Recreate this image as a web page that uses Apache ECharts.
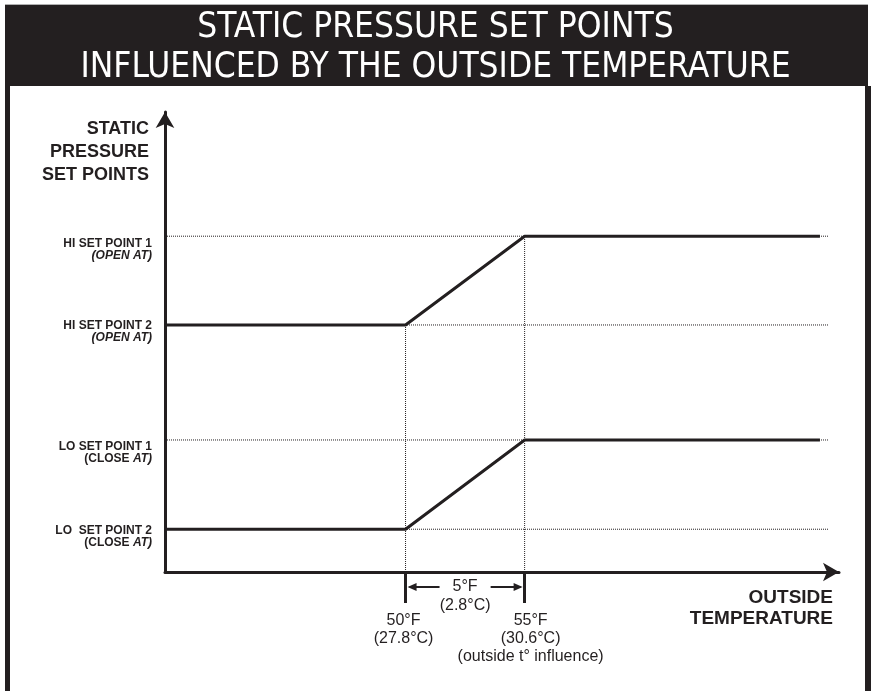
<!DOCTYPE html>
<html>
<head>
<meta charset="utf-8">
<script src="https://cdn.jsdelivr.net/npm/echarts@6/dist/echarts.min.js"></script>
<style>
  html, body { margin: 0; padding: 0; background: #fff; }
  #chart { width: 871px; height: 691px; }
</style>
</head>
<body>
<div id="chart"></div>
<script>
// set point levels (pressure axis, arbitrary units) from bottom to top
const yLevels = [9.3, 28.7, 53.7, 73.0];
const yLabelNames = ["LO  SET POINT 2", "LO SET POINT 1", "HI SET POINT 2", "HI SET POINT 1"];
const yLabelActions = ["CLOSE", "CLOSE", "OPEN", "OPEN"];

// outside temperature (°F)
const xTemps = [39.9, 50, 55, 67.4];
const hiLine = [53.7, 53.7, 73.0, 73.0];
const loLine = [9.3, 9.3, 28.7, 28.7];
const guideEndX = 67.75;

const xTicks = [50, 55];
const xTickLabels = ["50°F\n(27.8°C)", "55°F\n(30.6°C)\n(outside t° influence)"];
const bandLabel = "5°F\n(2.8°C)";

const ink = "#231f20";
const sans = "Liberation Sans, Arial, sans-serif";
const chart = echarts.init(document.getElementById("chart"));

const guideStyle = { color: ink, width: 1, type: [1, 1] };
const guides = [];
yLevels.forEach((lvl) => {
  guides.push([[xTemps[0], lvl], [guideEndX, lvl]]);
});
guides.push([[xTicks[0], 0], [xTicks[0], hiLine[1]]]);
guides.push([[xTicks[1], 0], [xTicks[1], hiLine[2]]]);

const labelFont = { fontFamily: sans, fontWeight: "bold", fontSize: 12, lineHeight: 12, color: ink };

chart.setOption({
  animation: false,
  title: {
    text: "STATIC PRESSURE SET POINTS\nINFLUENCED BY THE OUTSIDE TEMPERATURE",
    left: "center",
    top: 8,
    padding: 0,
    textStyle: {
      color: "#fff",
      fontFamily: "Liberation Sans Narrow, DejaVu Sans Condensed, sans-serif",
      fontWeight: "normal",
      fontSize: 35,
      lineHeight: 40
    }
  },
  grid: { left: 165, right: 32, top: 112, bottom: 119 },
  xAxis: {
    type: "value",
    min: 39.9,
    max: 68.2,
    name: "OUTSIDE\nTEMPERATURE",
    nameLocation: "end",
    nameGap: -6,
    nameTextStyle: {
      align: "right",
      verticalAlign: "top",
      padding: [15, 0, 0, 0],
      color: ink,
      fontFamily: sans,
      fontWeight: "bold",
      fontSize: 19,
      lineHeight: 21
    },
    splitLine: { show: false },
    axisLine: {
      symbol: ["none", "arrow"],
      symbolSize: [14, 16],
      lineStyle: { color: ink, width: 3 }
    },
    axisTick: {
      customValues: xTicks,
      length: 31,
      lineStyle: { color: ink, width: 3 }
    },
    axisLabel: {
      customValues: xTicks,
      margin: 40,
      color: ink,
      fontFamily: sans,
      fontSize: 16,
      lineHeight: 18,
      formatter: (v) => {
        const i = xTicks.indexOf(v);
        if (i < 0) return "";
        const key = i === 0 ? "a" : "c";
        return xTickLabels[i].split("\n").map((s) => "{" + key + "|" + s + "}").join("\n");
      },
      rich: {
        a: { fontFamily: sans, fontSize: 16, lineHeight: 18, color: ink, padding: [0, 4, 0, 0] },
        c: { fontFamily: sans, fontSize: 16, lineHeight: 18, color: ink, padding: [0, 0, 0, 12] }
      }
    }
  },
  yAxis: {
    type: "value",
    min: 0,
    max: 100,
    name: "STATIC\nPRESSURE\nSET POINTS",
    nameLocation: "end",
    nameGap: -6,
    nameTextStyle: {
      align: "right",
      verticalAlign: "top",
      padding: [0, 16, 0, 0],
      color: ink,
      fontFamily: sans,
      fontWeight: "bold",
      fontSize: 18,
      lineHeight: 23
    },
    splitLine: { show: false },
    axisLine: {
      symbol: ["none", "arrow"],
      symbolSize: [14, 16],
      lineStyle: { color: ink, width: 3 }
    },
    axisTick: { show: false },
    axisLabel: {
      customValues: yLevels,
      margin: 13,
      verticalAlign: "middle",
      align: "right",
      formatter: (v) => {
        const i = yLevels.indexOf(v);
        if (i < 0) return "";
        const spacer = yLabelNames[i].endsWith("1") ? "{s1| }" : "{s2| }";
        const second = yLabelActions[i] === "OPEN" ? "{i|(OPEN AT)}" : "{b|(CLOSE }{i|AT)}";
        return spacer + "\n{n|" + yLabelNames[i] + "}\n" + second;
      },
      rich: {
        s1: { fontSize: 4, lineHeight: 26 },
        s2: { fontSize: 4, lineHeight: 14 },
        n: labelFont,
        b: labelFont,
        i: Object.assign({}, labelFont, { fontStyle: "italic" })
      }
    }
  },
  series: [
    ...guides.map((seg) => ({
      type: "line",
      data: seg,
      symbol: "none",
      silent: true,
      z: 1,
      lineStyle: guideStyle
    })),
    {
      name: "HI",
      type: "line",
      data: xTemps.map((x, i) => [x, hiLine[i]]),
      symbol: "none",
      z: 3,
      lineStyle: { color: ink, width: 3 }
    },
    {
      name: "LO",
      type: "line",
      data: xTemps.map((x, i) => [x, loLine[i]]),
      symbol: "none",
      z: 3,
      lineStyle: { color: ink, width: 3 }
    }
  ]
});

// frame + dimension arrow between the two temperatures
const p50 = chart.convertToPixel({ gridIndex: 0 }, [xTicks[0], 0]);
const p55 = chart.convertToPixel({ gridIndex: 0 }, [xTicks[1], 0]);
const ay = p50[1] + 15;
const mid = (p50[0] + p55[0]) / 2;

chart.setOption({
  graphic: [
    { type: "rect", z: -10, shape: { x: 5, y: 4, width: 863, height: 1 }, style: { fill: "#b0b0b0" } },
    { type: "rect", z: -10, shape: { x: 5, y: 5, width: 863, height: 81 }, style: { fill: ink } },
    { type: "rect", z: -10, shape: { x: 5, y: 86, width: 5, height: 605 }, style: { fill: ink } },
    { type: "rect", z: -10, shape: { x: 865, y: 86, width: 6, height: 605 }, style: { fill: ink } },
    { type: "line", shape: { x1: p50[0] + 4, y1: ay, x2: p50[0] + 34, y2: ay }, style: { stroke: ink, lineWidth: 2 } },
    { type: "line", shape: { x1: p55[0] - 34, y1: ay, x2: p55[0] - 4, y2: ay }, style: { stroke: ink, lineWidth: 2 } },
    { type: "polygon", shape: { points: [[p50[0] + 2, ay], [p50[0] + 11, ay - 4], [p50[0] + 11, ay + 4]] }, style: { fill: ink } },
    { type: "polygon", shape: { points: [[p55[0] - 2, ay], [p55[0] - 11, ay - 4], [p55[0] - 11, ay + 4]] }, style: { fill: ink } },
    {
      type: "text",
      x: mid,
      y: ay - 10,
      style: {
        text: bandLabel,
        align: "center",
        verticalAlign: "top",
        fill: ink,
        font: "16px Liberation Sans, Arial, sans-serif",
        lineHeight: 19
      }
    }
  ]
});
</script>
</body>
</html>
